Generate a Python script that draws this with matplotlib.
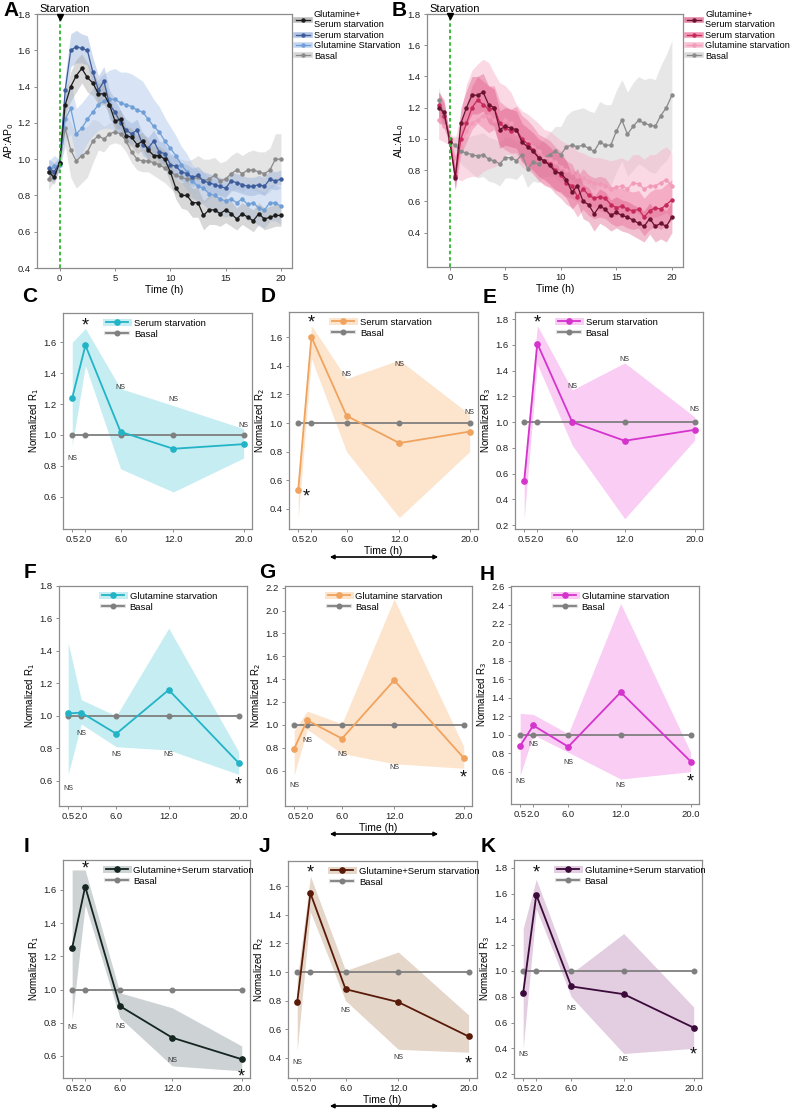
import matplotlib
matplotlib.use("Agg")
import matplotlib.pyplot as plt
import numpy as np
from matplotlib.lines import Line2D
from matplotlib.transforms import ScaledTranslation

plt.rcParams['font.family'] = ['Liberation Sans', 'DejaVu Sans']

# --- time courses (panels A and B), 0.5 h sampling ---
TIME_AB = [-1.0, -0.5, 0.0, 0.5, 1.0, 1.5, 2.0, 2.5, 3.0, 3.5,
           4.0, 4.5, 5.0, 5.5, 6.0, 6.5, 7.0, 7.5, 8.0, 8.5,
           9.0, 9.5, 10.0, 10.5, 11.0, 11.5, 12.0, 12.5, 13.0, 13.5,
           14.0, 14.5, 15.0, 15.5, 16.0, 16.5, 17.0, 17.5, 18.0, 18.5,
           19.0, 19.5, 20.0]

A_GS = [0.93, 0.90, 0.98, 1.30, 1.40, 1.46, 1.50, 1.45, 1.42, 1.36,
        1.36, 1.30, 1.21, 1.22, 1.13, 1.12, 1.08, 1.10, 1.05, 1.02,
        1.02, 1.00, 0.93, 0.84, 0.80, 0.80, 0.76, 0.76, 0.69, 0.72,
        0.72, 0.70, 0.72, 0.70, 0.67, 0.70, 0.68, 0.66, 0.70, 0.67,
        0.68, 0.69, 0.69]
A_SERUM = [0.95, 0.93, 0.98, 1.38, 1.60, 1.62, 1.61, 1.60, 1.48, 1.38,
           1.43, 1.30, 1.26, 1.20, 1.16, 1.14, 1.16, 1.08, 1.06, 1.10,
           1.04, 1.03, 0.97, 0.96, 0.93, 0.92, 0.90, 0.91, 0.88, 0.87,
           0.86, 0.85, 0.84, 0.88, 0.87, 0.86, 0.85, 0.85, 0.86, 0.85,
           0.89, 0.88, 0.89]
A_GLU = [0.93, 0.96, 0.97, 1.22, 1.28, 1.14, 1.17, 1.22, 1.26, 1.30,
         1.32, 1.33, 1.33, 1.31, 1.30, 1.29, 1.27, 1.26, 1.22, 1.18,
         1.15, 1.10, 1.06, 1.02, 0.97, 0.93, 0.88, 0.85, 0.84, 0.81,
         0.80, 0.78, 0.77, 0.78, 0.76, 0.78, 0.75, 0.76, 0.73, 0.72,
         0.76, 0.76, 0.74]
A_BASAL = [0.89, 0.93, 0.98, 1.17, 1.05, 0.99, 1.02, 1.04, 1.10, 1.13,
           1.11, 1.14, 1.15, 1.14, 1.10, 1.04, 1.00, 0.99, 0.99, 0.98,
           0.97, 0.95, 0.93, 0.91, 0.90, 0.89, 0.89, 0.90, 0.88, 0.89,
           0.91, 0.88, 0.89, 0.92, 0.94, 0.92, 0.94, 0.94, 0.93, 0.92,
           0.94, 1.00, 1.00]

SD_A_GS = [0.04, 0.04, 0.03, 0.06, 0.08, 0.09, 0.08, 0.08, 0.07, 0.06,
           0.06, 0.05, 0.05, 0.05, 0.05, 0.05, 0.05, 0.05, 0.05, 0.05,
           0.05, 0.05, 0.06, 0.06, 0.07, 0.08, 0.08, 0.08, 0.08, 0.08,
           0.08, 0.07, 0.07, 0.07, 0.06, 0.06, 0.06, 0.06, 0.06, 0.06,
           0.06, 0.06, 0.06]
SD_A_SERUM = [0.05, 0.05, 0.03, 0.08, 0.09, 0.09, 0.08, 0.08, 0.08, 0.08,
              0.08, 0.08, 0.07, 0.07, 0.06, 0.06, 0.06, 0.06, 0.06, 0.06,
              0.06, 0.06, 0.06, 0.06, 0.05, 0.05, 0.05, 0.05, 0.05, 0.05,
              0.05, 0.05, 0.05, 0.05, 0.05, 0.05, 0.05, 0.05, 0.05, 0.05,
              0.05, 0.05, 0.05]
SD_A_GLU = [0.06, 0.06, 0.03, 0.12, 0.14, 0.14, 0.14, 0.13, 0.13, 0.14,
            0.15, 0.16, 0.17, 0.17, 0.18, 0.18, 0.18, 0.17, 0.16, 0.15,
            0.14, 0.13, 0.12, 0.11, 0.10, 0.10, 0.09, 0.09, 0.09, 0.09,
            0.09, 0.09, 0.09, 0.09, 0.09, 0.09, 0.09, 0.10, 0.10, 0.10,
            0.10, 0.10, 0.10]
SD_A_BASAL = [0.06, 0.05, 0.03, 0.10, 0.15, 0.15, 0.15, 0.14, 0.12, 0.08,
              0.07, 0.06, 0.06, 0.06, 0.06, 0.06, 0.06, 0.06, 0.06, 0.07,
              0.08, 0.08, 0.09, 0.10, 0.10, 0.10, 0.11, 0.12, 0.12, 0.11,
              0.10, 0.10, 0.10, 0.10, 0.10, 0.10, 0.10, 0.11, 0.11, 0.12,
              0.12, 0.14, 0.14]

B_GS = [1.20, 1.17, 0.98, 0.75, 1.10, 1.20, 1.28, 1.28, 1.30, 1.22,
        1.20, 1.06, 1.08, 1.07, 1.06, 0.98, 0.95, 0.92, 0.88, 0.86,
        0.83, 0.79, 0.78, 0.74, 0.66, 0.70, 0.60, 0.58, 0.52, 0.57,
        0.55, 0.51, 0.53, 0.51, 0.50, 0.48, 0.46, 0.44, 0.49, 0.44,
        0.46, 0.44, 0.50]
B_SERUM = [1.22, 1.15, 1.00, 0.76, 1.00, 1.10, 1.20, 1.25, 1.22, 1.19,
           1.20, 1.10, 1.07, 1.05, 1.06, 1.00, 0.97, 0.93, 0.88, 0.86,
           0.84, 0.80, 0.77, 0.72, 0.70, 0.63, 0.68, 0.64, 0.62, 0.63,
           0.62, 0.58, 0.56, 0.57, 0.55, 0.54, 0.55, 0.50, 0.54, 0.56,
           0.55, 0.58, 0.61]
B_GLU = [1.12, 1.08, 1.00, 0.88, 0.95, 1.05, 1.10, 1.12, 1.15, 1.15,
         1.12, 1.10, 1.12, 1.10, 1.04, 1.00, 0.98, 0.95, 0.92, 0.88,
         0.87, 0.85, 0.82, 0.80, 0.79, 0.76, 0.75, 0.73, 0.72, 0.71,
         0.70, 0.68, 0.69, 0.70, 0.68, 0.72, 0.71, 0.68, 0.70, 0.70,
         0.72, 0.74, 0.70]
B_BASAL = [1.25, 1.15, 0.98, 0.96, 0.92, 0.91, 0.90, 0.89, 0.90, 0.87,
           0.86, 0.84, 0.88, 0.88, 0.86, 0.90, 0.81, 0.85, 0.84, 0.88,
           0.90, 0.92, 0.90, 0.95, 0.96, 0.95, 0.96, 0.94, 0.92, 0.98,
           0.96, 0.96, 1.05, 1.12, 1.03, 1.08, 1.12, 1.10, 1.09, 1.08,
           1.15, 1.20, 1.28]

SD_B_GS = [0.10, 0.08, 0.03, 0.08, 0.10, 0.11, 0.12, 0.12, 0.12, 0.12,
           0.12, 0.12, 0.12, 0.12, 0.12, 0.12, 0.12, 0.12, 0.12, 0.12,
           0.12, 0.12, 0.12, 0.12, 0.11, 0.11, 0.11, 0.11, 0.11, 0.11,
           0.11, 0.10, 0.10, 0.10, 0.10, 0.10, 0.10, 0.10, 0.10, 0.10,
           0.10, 0.10, 0.10]
SD_B_SERUM = [0.08, 0.08, 0.03, 0.08, 0.10, 0.12, 0.14, 0.15, 0.15, 0.15,
              0.14, 0.14, 0.14, 0.14, 0.15, 0.15, 0.15, 0.15, 0.15, 0.15,
              0.15, 0.15, 0.15, 0.14, 0.14, 0.13, 0.13, 0.13, 0.13, 0.13,
              0.13, 0.12, 0.12, 0.12, 0.12, 0.12, 0.12, 0.12, 0.12, 0.12,
              0.13, 0.13, 0.13]
SD_B_GLU = [0.12, 0.10, 0.04, 0.12, 0.22, 0.30, 0.34, 0.36, 0.36, 0.34,
            0.30, 0.26, 0.22, 0.20, 0.18, 0.18, 0.18, 0.18, 0.18, 0.18,
            0.18, 0.17, 0.17, 0.17, 0.17, 0.16, 0.16, 0.16, 0.16, 0.17,
            0.17, 0.18, 0.18, 0.18, 0.18, 0.18, 0.19, 0.19, 0.20, 0.20,
            0.21, 0.21, 0.21]
SD_B_BASAL = [0.08, 0.06, 0.03, 0.06, 0.08, 0.10, 0.12, 0.14, 0.14, 0.14,
              0.14, 0.14, 0.13, 0.13, 0.12, 0.12, 0.12, 0.12, 0.12, 0.12,
              0.14, 0.16, 0.18, 0.20, 0.22, 0.24, 0.24, 0.24, 0.25, 0.26,
              0.26, 0.26, 0.26, 0.26, 0.27, 0.28, 0.28, 0.28, 0.30, 0.30,
              0.32, 0.34, 0.35]

# --- normalized ratios (panels C-K) ---
R_TIMES = [0.5, 2.0, 6.0, 12.0, 20.0]
R_TICKLABELS = ['0.5', '2.0', '6.0', '12.0', '20.0']
R_BASAL = [1.0, 1.0, 1.0, 1.0, 1.0]

C_VAL = [1.24, 1.58, 1.02, 0.91, 0.94]
C_UP = [1.60, 1.69, 1.30, 1.19, 1.04]
C_LO = [0.93, 1.45, 0.78, 0.63, 0.85]
D_VAL = [0.53, 1.60, 1.05, 0.86, 0.94]
D_UP = [0.60, 1.68, 1.31, 1.44, 1.06]
D_LO = [0.33, 1.45, 0.80, 0.34, 0.80]
E_VAL = [0.54, 1.61, 1.00, 0.855, 0.94]
E_UP = [0.62, 1.75, 1.25, 1.46, 1.04]
E_LO = [0.25, 1.45, 0.82, 0.25, 0.86]

F_VAL = [1.015, 1.02, 0.89, 1.16, 0.71]
F_UP = [1.45, 1.10, 1.00, 1.54, 0.78]
F_LO = [0.64, 0.95, 0.81, 0.79, 0.64]
G_VAL = [0.79, 1.04, 0.88, 1.39, 0.71]
G_UP = [0.95, 1.12, 1.01, 2.10, 0.81]
G_LO = [0.56, 0.96, 0.75, 0.66, 0.62]
H_VAL = [0.88, 1.10, 0.87, 1.46, 0.71]
H_UP = [1.23, 1.22, 1.01, 2.42, 0.81]
H_LO = [0.56, 1.00, 0.81, 0.52, 0.60]

I_VAL = [1.25, 1.62, 0.90, 0.71, 0.58]
I_UP = [1.72, 1.72, 0.98, 0.89, 0.66]
I_LO = [0.82, 1.51, 0.83, 0.54, 0.51]
J_VAL = [0.79, 1.55, 0.88, 0.79, 0.55]
J_UP = [0.95, 1.67, 1.01, 1.14, 0.70]
J_LO = [0.45, 1.42, 0.80, 0.46, 0.44]
K_VAL = [0.83, 1.59, 0.88, 0.82, 0.56]
K_UP = [1.33, 1.71, 0.98, 1.29, 0.72]
K_LO = [0.40, 1.48, 0.80, 0.36, 0.40]

# significance labels: (time, y, text)
C_MARKS = [(0.5, 0.85, 'NS'), (2.0, 1.73, '*'), (6.0, 1.31, 'NS'), (12.0, 1.23, 'NS'), (20.0, 1.06, 'NS')]
D_MARKS = [(2.0, 1.73, '*'), (1.4, 0.51, '*'), (6.0, 1.34, 'NS'), (12.0, 1.41, 'NS'), (20.0, 1.075, 'NS')]
E_MARKS = [(2.0, 1.80, '*'), (6.0, 1.28, 'NS'), (12.0, 1.49, 'NS'), (20.0, 1.10, 'NS')]
F_MARKS = [(0.5, 0.555, 'NS'), (2.0, 0.89, 'NS'), (6.0, 0.76, 'NS'), (12.0, 0.76, 'NS'), (20.0, 0.60, '*')]
G_MARKS = [(0.5, 0.47, 'NS'), (2.0, 0.865, 'NS'), (6.0, 0.74, 'NS'), (12.0, 0.63, 'NS'), (20.0, 0.57, '*')]
H_MARKS = [(0.5, 0.49, 'NS'), (2.0, 0.89, 'NS'), (6.0, 0.70, 'NS'), (12.0, 0.45, 'NS'), (20.0, 0.535, '*')]
I_MARKS = [(0.5, 0.77, 'NS'), (2.0, 1.75, '*'), (6.0, 0.78, 'NS'), (12.0, 0.57, 'NS'), (20.0, 0.50, '*')]
J_MARKS = [(0.5, 0.365, 'NS'), (2.0, 1.72, '*'), (6.0, 0.73, 'NS'), (12.0, 0.40, 'NS'), (20.0, 0.385, '*')]
K_MARKS = [(0.5, 0.35, 'NS'), (2.0, 1.79, '*'), (6.0, 0.705, 'NS'), (12.0, 0.31, 'NS'), (20.0, 0.38, '*')]

GRAY = '#7f7f7f'
SPINE = '#8c8c8c'
TICK_FS = 6.8
W, H = 800, 1111

fig = plt.figure(figsize=(8.0, 11.11), dpi=100)


def px_axes(left, right, top, bottom):
    return fig.add_axes([left / W, 1 - bottom / H, (right - left) / W, (bottom - top) / H])


def style_axes(ax):
    for sp in ax.spines.values():
        sp.set_color(SPINE)
        sp.set_linewidth(0.9)
    ax.tick_params(colors=SPINE, labelcolor='#222222', labelsize=TICK_FS, length=2.5, width=0.7, pad=2)


def time_course(ax, series, labels, ylabel, ylim):
    for vals, sd, line_c, fill_c, alpha in series:
        v = np.array(vals)
        s = np.array(sd)
        ax.fill_between(TIME_AB, v - s, v + s, color=fill_c, alpha=alpha, lw=0)
    handles = []
    for vals, sd, line_c, fill_c, alpha in series:
        ax.plot(TIME_AB, vals, color=line_c, lw=0.9, marker='o', ms=2.2)
        handles.append((Line2D([], [], color=fill_c, alpha=min(1, alpha + 0.3), lw=4),
                        Line2D([], [], color=line_c, lw=0.9, marker='o', ms=2.2)))
    ax.axvline(0, color='#2fb82f', lw=1.3, ls=(0, (2, 1.5)))
    ax.plot([0], [ylim[1] - 0.015], marker='v', color='k', ms=5, clip_on=False, zorder=5)
    ax.set_xlim(-2.05, 21.0)
    ax.set_ylim(*ylim)
    ax.set_xticks([0, 5, 10, 15, 20])
    ax.set_yticks([0.4, 0.6, 0.8, 1.0, 1.2, 1.4, 1.6, 1.8])
    ax.set_xlabel('Time (h)', fontsize=7.5, labelpad=1)
    ax.set_ylabel(ylabel, fontsize=7.5, labelpad=1)
    ax.annotate('Starvation', xy=(-1.8, 1.0), xycoords=('data', 'axes fraction'),
                fontsize=8, ha='left', va='bottom')
    style_axes(ax)
    # legend order on the figure: G+S, Serum, Glutamine, Basal
    order = [3, 2, 1, 0]
    ax.legend([handles[i] for i in order], [labels[i] for i in order],
              loc='upper left', bbox_to_anchor=(1.0, 1.03), frameon=False,
              fontsize=6.6, handlelength=1.6, handletextpad=0.4,
              labelspacing=0.15, borderaxespad=0)


def r_panel(ax, vals, up, lo, line_c, fill_c, label, ylabel, ylim, yticks, marks):
    ax.fill_between(R_TIMES, lo, up, color=fill_c, lw=0)
    ax.plot(R_TIMES, R_BASAL, color=GRAY, lw=1.3, marker='o', ms=3.3)
    ax.plot(R_TIMES, vals, color=line_c, lw=1.3, marker='o', ms=3.8)
    for x, y, s in marks:
        if s == '*':
            ax.annotate('*', xy=(x, y), xytext=(0, -3), textcoords='offset points',
                        fontsize=13, ha='center', va='center', color='#111111')
        else:
            ax.text(x, y, s, fontsize=5, ha='center', va='center', color='#333333')
    ax.set_xlim(-0.55, 20.95)
    ax.set_ylim(*ylim)
    ax.set_xticks(R_TIMES)
    ax.set_xticklabels(R_TICKLABELS)
    # nudge the two crowded labels apart
    labels = ax.get_xticklabels()
    labels[0].set_transform(labels[0].get_transform() + ScaledTranslation(-1.5 / 72, 0, fig.dpi_scale_trans))
    labels[1].set_transform(labels[1].get_transform() + ScaledTranslation(1.5 / 72, 0, fig.dpi_scale_trans))
    ax.set_yticks(yticks)
    ax.set_ylabel(ylabel, fontsize=7, labelpad=2)
    style_axes(ax)
    h1 = (Line2D([], [], color=fill_c, lw=5), Line2D([], [], color=line_c, lw=1.3, marker='o', ms=3.8))
    h2 = (Line2D([], [], color='#e2e2e2', lw=3), Line2D([], [], color=GRAY, lw=1.3, marker='o', ms=3.3))
    ax.legend([h1, h2], [label, 'Basal'], loc='upper left', bbox_to_anchor=(0.2, 1.0),
              frameon=False, fontsize=6.8, handlelength=2.3, handletextpad=0.6,
              labelspacing=0.2, borderaxespad=0.2)


# Panel A
time_course(
    px_axes(37, 292, 14, 268),
    [(A_BASAL, SD_A_BASAL, '#8a8a8a', '#cfcfcf', 0.55),
     (A_GLU, SD_A_GLU, '#6f9fd6', '#b9cfee', 0.55),
     (A_SERUM, SD_A_SERUM, '#3d5c9c', '#9fb6dc', 0.5),
     (A_GS, SD_A_GS, '#1c1c1c', '#a9a9a9', 0.45)],
    ['Basal', 'Glutamine Starvation', 'Serum starvation', 'Glutamine+\nSerum starvation'],
    'AP:AP$_0$', (0.4, 1.8))

# Panel B
time_course(
    px_axes(427, 683, 14, 267),
    [(B_BASAL, SD_B_BASAL, '#8a8a8a', '#d4d4d4', 0.55),
     (B_GLU, SD_B_GLU, '#f29ab8', '#f6b3cb', 0.5),
     (B_SERUM, SD_B_SERUM, '#c52a5a', '#ea5f8c', 0.35),
     (B_GS, SD_B_GS, '#6a1230', '#d8487a', 0.35)],
    ['Basal', 'Glutamine starvation', 'Serum starvation', 'Glutamine+\nSerum starvation'],
    'AL:AL$_0$', (0.18, 1.8))

CYAN, CYAN_F = '#22b4c6', '#c6edf2'
ORANGE, ORANGE_F = '#f0a35e', '#fde4cc'
MAGENTA, MAGENTA_F = '#d534cc', '#f9cdf4'

r_panel(px_axes(63, 252, 313, 529), C_VAL, C_UP, C_LO, CYAN, CYAN_F, 'Serum starvation',
        'Normalized R$_1$', (0.39, 1.79), [0.6, 0.8, 1.0, 1.2, 1.4, 1.6], C_MARKS)
axD = px_axes(289, 478, 312, 529)
r_panel(axD, D_VAL, D_UP, D_LO, ORANGE, ORANGE_F, 'Serum starvation',
        'Normalized R$_2$', (0.26, 1.775), [0.4, 0.6, 0.8, 1.0, 1.2, 1.4, 1.6], D_MARKS)
r_panel(px_axes(515, 703, 312, 529), E_VAL, E_UP, E_LO, MAGENTA, MAGENTA_F, 'Serum starvation',
        'Normalized R$_3$', (0.17, 1.855), [0.2, 0.4, 0.6, 0.8, 1.0, 1.2, 1.4, 1.6, 1.8], E_MARKS)

r_panel(px_axes(59, 247, 586, 806), F_VAL, F_UP, F_LO, CYAN, CYAN_F, 'Glutamine starvation',
        'Normalized R$_1$', (0.445, 1.8), [0.6, 0.8, 1.0, 1.2, 1.4, 1.6, 1.8], F_MARKS)
axG = px_axes(285, 472, 586, 806)
r_panel(axG, G_VAL, G_UP, G_LO, ORANGE, ORANGE_F, 'Glutamine starvation',
        'Normalized R$_2$', (0.29, 2.215), [0.6, 0.8, 1.0, 1.2, 1.4, 1.6, 1.8, 2.0, 2.2], G_MARKS)
r_panel(px_axes(511, 699, 586, 804), H_VAL, H_UP, H_LO, MAGENTA, MAGENTA_F, 'Glutamine starvation',
        'Normalized R$_3$', (0.25, 2.61), [0.6, 0.8, 1.0, 1.2, 1.4, 1.6, 1.8, 2.0, 2.2, 2.4, 2.6], H_MARKS)

r_panel(px_axes(63, 250, 860, 1078), I_VAL, I_UP, I_LO, '#15251f', '#cdd2d5', 'Glutamine+Serum starvation',
        'Normalized R$_1$', (0.467, 1.78), [0.6, 0.8, 1.0, 1.2, 1.4, 1.6], I_MARKS)
axJ = px_axes(288, 477, 861, 1078)
r_panel(axJ, J_VAL, J_UP, J_LO, '#5a1a08', '#e5d6ca', 'Glutamine+Serum starvation',
        'Normalized R$_2$', (0.26, 1.775), [0.4, 0.6, 0.8, 1.0, 1.2, 1.4, 1.6], J_MARKS)
r_panel(px_axes(514, 702, 860, 1078), K_VAL, K_UP, K_LO, '#3b0a3a', '#e2cde1', 'Glutamine+Serum starvation',
        'Normalized R$_3$', (0.17, 1.86), [0.2, 0.4, 0.6, 0.8, 1.0, 1.2, 1.4, 1.6, 1.8], K_MARKS)

# shared time axis label + double arrow under the middle column
for ax, arrow_y in [(axD, 557), (axG, 834), (axJ, 1106)]:
    ax.set_xlabel('Time (h)', fontsize=7.5, labelpad=1)
    ax.annotate('', xy=(441, H - arrow_y), xytext=(327, H - arrow_y), xycoords='figure pixels',
                textcoords='figure pixels',
                arrowprops=dict(arrowstyle='<|-|>', color='black', lw=1.2, mutation_scale=6))

# panel letters
for letter, x, y in [('A', 3, 11), ('B', 392, 11), ('C', 22, 296), ('D', 261, 296), ('E', 483, 298),
                     ('F', 24, 572), ('G', 259, 572), ('H', 480, 575), ('I', 24, 846), ('J', 259, 846),
                     ('K', 481, 846)]:
    fig.text(x / W, 1 - y / H, letter, fontsize=15, fontweight='bold', ha='left', va='center')

fig.savefig('out.png', dpi=100)
